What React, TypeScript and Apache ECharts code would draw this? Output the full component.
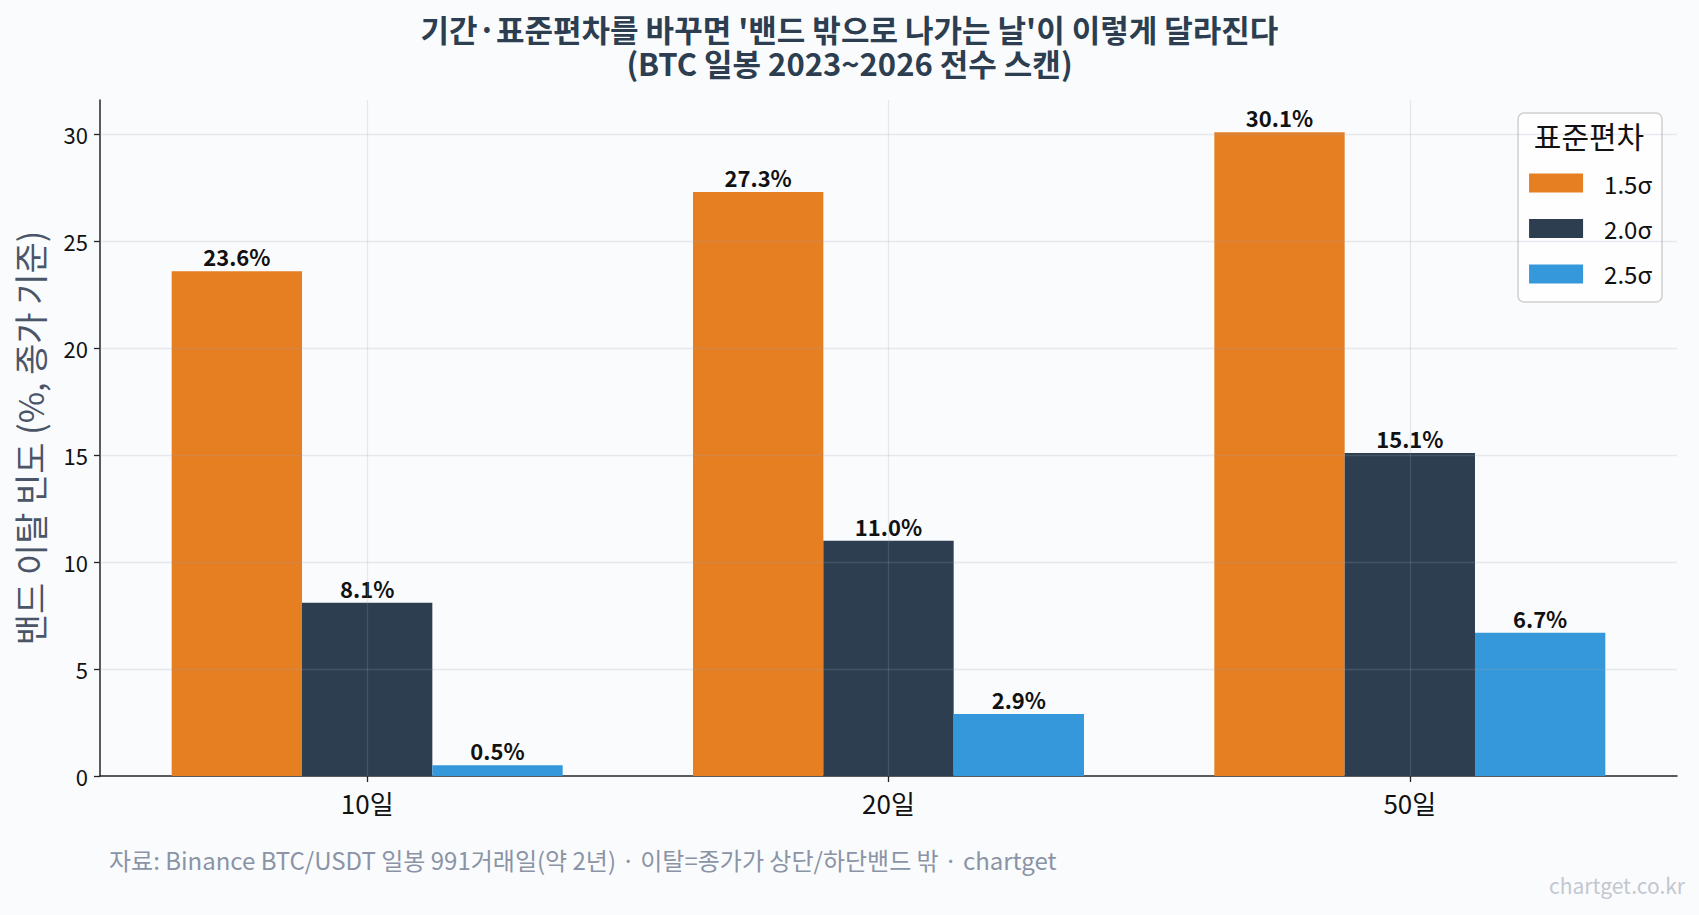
import React, { useEffect, useRef } from 'react';
import * as echarts from 'echarts';

const periods = ['10일', '20일', '50일'];
const sigmaNames = ['1.5σ', '2.0σ', '2.5σ'];
const sigma15 = [23.6, 27.3, 30.1];
const sigma20 = [8.1, 11.0, 15.1];
const sigma25 = [0.5, 2.9, 6.7];
const yTicks = [0, 5, 10, 15, 20, 25, 30];
const colors = ['#e67e22', '#2c3e50', '#3498db'];

const FONT = '"Noto Sans CJK KR", "Noto Sans", sans-serif';

export default function App() {
  const chartRef = useRef<HTMLDivElement>(null);

  useEffect(() => {
    document.body.style.margin = '0';
    document.body.style.background = '#fafbfd';
    if (!chartRef.current) return;
    const chart = echarts.init(chartRef.current, null, { renderer: 'svg' });

    const xIdx = periods.map((_, i) => i);
    const gridLines = [
      ...xIdx.map((i) => ({ xAxis: i })),
      ...yTicks.filter((v) => v > 0).map((v) => ({ yAxis: v })),
    ];

    // grid is drawn above the bars, so it lives on the middle series (no bar offset)
    const makeSeries = (name: string, values: number[], k: number) => ({
      name,
      type: 'bar',
      data: values.map((v, i) => [i, v]),
      barWidth: '25%',
      barGap: '0%',
      itemStyle: { color: colors[k] },
      label: {
        show: true,
        position: 'top',
        distance: 4,
        fontFamily: FONT,
        fontSize: 22,
        fontWeight: 'bold',
        color: '#111',
        formatter: (p: any) => `${p.value[1].toFixed(1)}%`,
      },
      markLine: k === 1
        ? {
            silent: true,
            symbol: ['none', 'none'],
            label: { show: false },
            lineStyle: { color: 'rgba(160,166,178,0.22)', width: 1.3, type: 'solid' },
            emphasis: { disabled: true },
            data: gridLines,
          }
        : undefined,
    });

    const titleStyle = { fontFamily: FONT, fontSize: 31, fontWeight: 'bold', color: '#2c3e50', lineHeight: 31 };

    const option = {
      animation: false,
      backgroundColor: '#fafbfd',
      textStyle: { fontFamily: FONT },
      title: [
        {
          text: "기간·표준편차를 바꾸면 '밴드 밖으로 나가는 날'이 이렇게 달라진다",
          left: 'center',
          top: 13,
          padding: 0,
          textStyle: titleStyle,
        },
        {
          text: '(BTC 일봉 2023~2026 전수 스캔)',
          left: 'center',
          top: 47,
          padding: 0,
          textStyle: titleStyle,
        },
        {
          text: '표준편차',
          left: 1589,
          textAlign: 'center',
          top: 120,
          padding: 0,
          textStyle: { fontFamily: FONT, fontSize: 30, fontWeight: 'normal', color: '#111' },
        },
      ],
      legend: {
        orient: 'vertical',
        right: 37,
        top: 113,
        data: sigmaNames,
        icon: 'rect',
        itemWidth: 54,
        itemHeight: 19,
        itemGap: 21.5,
        padding: [58, 10, 16, 11],
        borderColor: '#d0d0d0',
        borderWidth: 1.5,
        borderRadius: 6,
        backgroundColor: 'rgba(255,255,255,0.8)',
        textStyle: { fontFamily: FONT, fontSize: 24, color: '#111', lineHeight: 19, padding: [0, 0, 0, 16] },
      },
      grid: { left: 100, right: 22, top: 100, bottom: 139 },
      xAxis: {
        type: 'value',
        min: -0.5125,
        max: 2.5125,
        splitLine: { show: false },
        axisLine: { show: true, onZero: false, lineStyle: { color: '#262626', width: 1.5 } },
        axisTick: { show: true, length: 6, customValues: xIdx, lineStyle: { color: '#262626', width: 1.3 } },
        axisLabel: {
          customValues: xIdx,
          margin: 13,
          fontFamily: FONT,
          fontSize: 26,
          color: '#111',
          formatter: (v: number) => periods[Math.round(v)] ?? '',
        },
      },
      yAxis: {
        type: 'value',
        min: 0,
        max: 31.605,
        name: '밴드 이탈 빈도 (%, 종가 기준)',
        nameLocation: 'middle',
        nameGap: 54,
        nameTextStyle: { fontFamily: FONT, fontSize: 34, color: '#4a5568' },
        splitLine: { show: false },
        axisLine: { show: true, onZero: false, lineStyle: { color: '#262626', width: 1.5 } },
        axisTick: { show: true, length: 6, customValues: yTicks, lineStyle: { color: '#262626', width: 1.3 } },
        axisLabel: {
          customValues: yTicks,
          margin: 12,
          fontFamily: FONT,
          fontSize: 22,
          color: '#111',
        },
      },
      graphic: [
        {
          type: 'text',
          left: 109,
          top: 847,
          style: {
            text: '자료: Binance BTC/USDT 일봉 991거래일(약 2년) · 이탈=종가가 상단/하단밴드 밖 · chartget',
            fontFamily: FONT,
            fontSize: 24,
            fill: '#8a94a6',
          },
        },
        {
          type: 'text',
          right: 14,
          top: 874,
          style: {
            text: 'chartget.co.kr',
            fontFamily: FONT,
            fontSize: 21,
            fill: '#c3c7cf',
          },
        },
      ],
      series: [
        makeSeries(sigmaNames[0], sigma15, 0),
        makeSeries(sigmaNames[1], sigma20, 1),
        makeSeries(sigmaNames[2], sigma25, 2),
      ],
    };

    chart.setOption(option as any);
    return () => chart.dispose();
  }, []);

  return <div ref={chartRef} style={{ width: 1699, height: 915 }} />;
}
